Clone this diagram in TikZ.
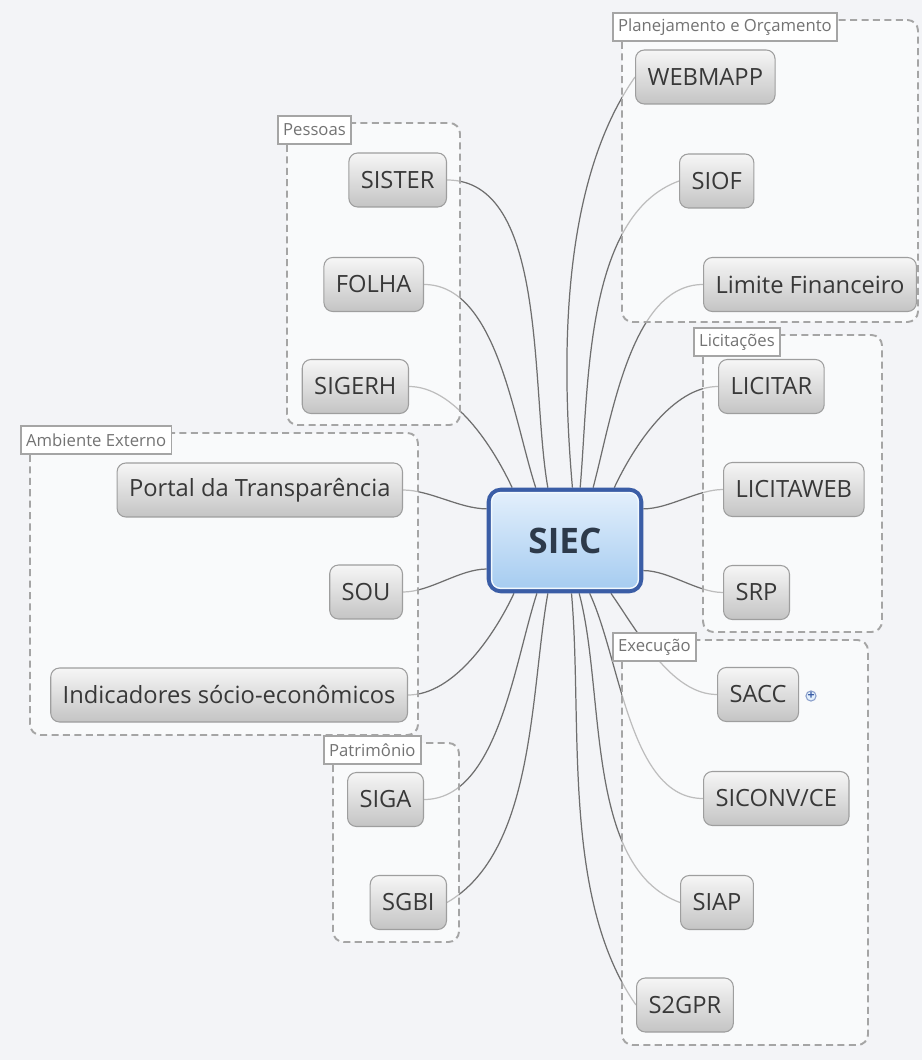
\documentclass[tikz,border=0pt]{standalone}
\usepackage{fontspec}
\setmainfont{Open Sans}
\usepackage{tikz}
\definecolor{bgcol}{HTML}{F3F4F7}
\definecolor{linkcol}{HTML}{6E6E6E}
\definecolor{grpcol}{HTML}{A5A5A5}
\definecolor{leaftop}{HTML}{F6F6F6}
\definecolor{leafbot}{HTML}{C4C4C4}
\definecolor{leafline}{HTML}{9E9E9E}
\definecolor{hubblue}{HTML}{3A5DA6}
\definecolor{hubtop}{HTML}{E4F0FC}
\definecolor{hubbot}{HTML}{A4CBF0}
\definecolor{hubtext}{HTML}{2D3A4A}
\pgfdeclarelayer{wires}
\pgfdeclarelayer{groups}
\pgfsetlayers{wires,groups,main}

\begin{document}
\begin{tikzpicture}[x=0.02cm,y=-0.02cm,
  leaf/.style={draw=leafline,line width=0.6pt,rounded corners=5pt,top color=leaftop,bottom color=leafbot,text=black!78,font=\fontsize{13.5}{16}\selectfont,inner xsep=0.24cm,minimum height=1.08cm},
  hub/.style={draw=hubblue,line width=2.4pt,rounded corners=7pt,top color=hubtop,bottom color=hubbot,text=hubtext,font=\fontsize{20}{24}\selectfont\bfseries,minimum width=3.05cm,minimum height=2.03cm},
  grp/.style={draw=grpcol,line width=1.1pt,dash pattern=on 4pt off 2.5pt,rounded corners=6pt,fill=white,fill opacity=0.55},
  tag/.style={draw=grpcol,fill=white,line width=1pt,text=black!55,font=\fontsize{9.5}{11}\selectfont,inner xsep=3pt,minimum height=0.56cm,anchor=west},
  link/.style={draw=linkcol,line width=0.7pt,looseness=0.8}]

\useasboundingbox (0,0) rectangle (922,1060);

\node[hub] (siec) at (565,540.5) {SIEC};
\draw[hubtop!50!white,line width=0.8pt,rounded corners=5pt] ([shift={(5,5)}]siec.north west) rectangle ([shift={(-5,-5)}]siec.south east);

\node[leaf,anchor=east] (sister) at (447,180) {SISTER};
\node[leaf,anchor=east] (folha) at (424,284.5) {FOLHA};
\node[leaf,anchor=east] (sigerh) at (409,386.5) {SIGERH};
\node[leaf,anchor=east] (portal) at (403,490) {Portal da Transparência};
\node[leaf,anchor=east] (sou) at (403,592) {SOU};
\node[leaf,anchor=east] (indic) at (408,695) {Indicadores sócio-econômicos};
\node[leaf,anchor=east] (siga) at (424,799.5) {SIGA};
\node[leaf,anchor=east] (sgbi) at (447,902.5) {SGBI};

\node[leaf,anchor=west] (webmapp) at (635,77) {WEBMAPP};
\node[leaf,anchor=west] (siof) at (679,181) {SIOF};
\node[leaf,anchor=west] (limite) at (703,284.5) {Limite Financeiro};
\node[leaf,anchor=west] (licitar) at (718,386.5) {LICITAR};
\node[leaf,anchor=west] (licitaweb) at (723,489.5) {LICITAWEB};
\node[leaf,anchor=west] (srp) at (723,592.5) {SRP};
\node[leaf,anchor=west] (sacc) at (717,694.5) {SACC};
\node[leaf,anchor=west] (siconv) at (703,798.5) {SICONV/CE};
\node[leaf,anchor=west] (siap) at (680,902.5) {SIAP};
\node[leaf,anchor=west] (sgpr) at (636,1005) {S2GPR};

\node[circle,draw=hubblue!60,fill=hubtop,line width=0.6pt,inner sep=0pt,minimum size=0.2cm,text=hubblue,font=\fontsize{7}{7}\selectfont\bfseries] (saccplus) at (811,696) {+};

\node[tag] (plantag) at (612,27) {Planejamento e Orçamento};
\node[tag] (pestag) at (277,130) {Pessoas};
\node[tag] (lictag) at (693,342) {Licitações};
\node[tag] (ambtag) at (20,440) {Ambiente Externo};
\node[tag] (exetag) at (612,647) {Execução};
\node[tag] (pattag) at (323,750) {Patrimônio};

\begin{pgfonlayer}{groups}
\draw[grp] (622,20) rectangle (918,322);
\draw[grp] (287,123) rectangle (460,425);
\draw[grp] (703,335) rectangle (882,632);
\draw[grp] (30,433) rectangle (418,735);
\draw[grp] (622,640) rectangle (868,1045);
\draw[grp] (333,743) rectangle (459,942);
\end{pgfonlayer}

\begin{pgfonlayer}{wires}
\fill[bgcol] (0,0) rectangle (922,1060);
\draw[link] (sigerh.east) to[out=0,in=115] (siec.135.3);
\draw[link] (folha.east) to[out=0,in=108] (siec.119.7);
\draw[link] (sister.east) to[out=0,in=100] (siec.108.9);
\draw[link] (webmapp.west) to[out=235,in=95] (siec.82.4);
\draw[link] (siof.west) to[out=200,in=85] (siec.74.1);
\draw[link] (limite.west) to[out=180,in=75] (siec.62.8);
\draw[link] (licitar.west) to[out=180,in=65] (siec.47.6);
\draw[link] (portal.east) to[out=0,in=180] (siec.158.6);
\draw[link] (sou.east) to[out=0,in=180] (siec.200.7);
\draw[link] (licitaweb.west) to[out=180,in=0] (siec.22.6);
\draw[link] (srp.west) to[out=180,in=0] (siec.339.3);
\draw[link] (indic.east) to[out=0,in=245] (siec.226.4);
\draw[link] (siga.east) to[out=0,in=252] (siec.242.8);
\draw[link] (sgbi.east) to[out=30,in=260] (siec.252.1);
\draw[link] (sgpr.west) to[out=125,in=275] (siec.277.6);
\draw[link] (siap.west) to[out=160,in=285] (siec.285.9);
\draw[link] (siconv.west) to[out=180,in=295] (siec.295.5);
\draw[link] (sacc.west) to[out=180,in=305] (siec.311.8);
\end{pgfonlayer}
\end{tikzpicture}
\end{document}
